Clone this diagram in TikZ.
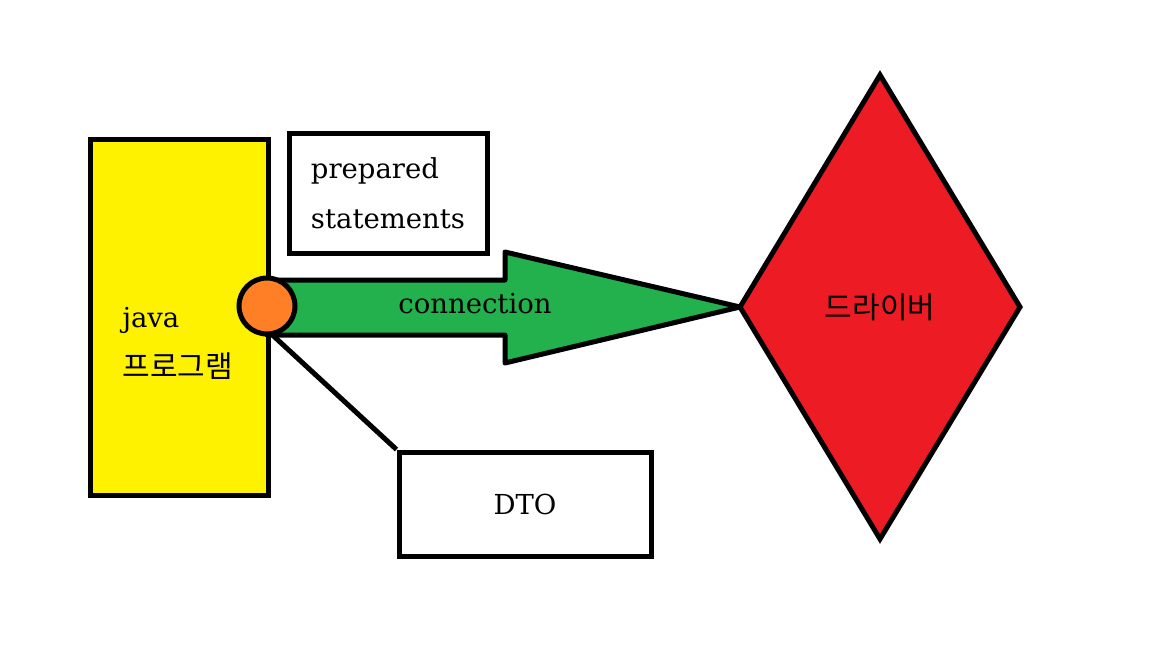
\documentclass[tikz,border=0pt]{standalone}
\usepackage{fontspec}
\setmainfont{DejaVu Serif}
\newfontfamily\kr{Noto Sans CJK KR}
\usetikzlibrary{shapes.geometric}
\definecolor{progyellow}{HTML}{FFF200}
\definecolor{conngreen}{HTML}{22B14C}
\definecolor{jointorange}{HTML}{FF7F27}
\definecolor{drvred}{HTML}{ED1C24}
\tikzset{
  box/.style={draw, line width=5pt, fill=white, inner sep=0pt},
  label text/.style={font=\fontsize{27.5}{50}\selectfont},
  kr text/.style={font=\fontsize{30}{50}\selectfont\kr}
}
\begin{document}
\begin{tikzpicture}[
  x=1pt,
  y=-1pt,
  line join=miter,
  every node/.append style={label text}
]
  \useasboundingbox (0,0) rectangle (1152,648);

  % 프로그램
  \node[box, fill=progyellow, minimum width=178pt, minimum height=356pt]
    (prog) at (179,317) {};
  \node[anchor=west, align=left] (proglabel) at (119,343)
    {java\\{\fontsize{30}{50}\selectfont\kr 프로그램}};

  % prepared statements
  \node[box, minimum width=198pt, minimum height=120pt, align=left]
    (prep) at (388,193) {prepared\\statements};

  % 드라이버
  \node[draw, line width=5pt, fill=drvred, diamond, inner sep=0pt,
    outer sep=0pt, minimum width=280pt, minimum height=464pt,
    kr text] (drv) at (880,307) {드라이버};

  % connection 화살표
  \draw[line width=5pt, fill=conngreen, line join=round]
    (267,280) -- (505,280) -- (505,252) -- (drv.west)
    -- (505,363) -- (505,335) -- (267,335) -- cycle;
  \node (conn) at (475,304) {connection};

  % DTO
  \node[box, minimum width=252pt, minimum height=104pt]
    (dto) at (525,504) {DTO};

  \node[draw, line width=5pt, fill=jointorange, circle, inner sep=0pt,
    minimum size=56pt] (joint) at (267,306) {};
  \draw[line width=5pt] (joint.-78) -- (dto.north west);
\end{tikzpicture}
\end{document}
